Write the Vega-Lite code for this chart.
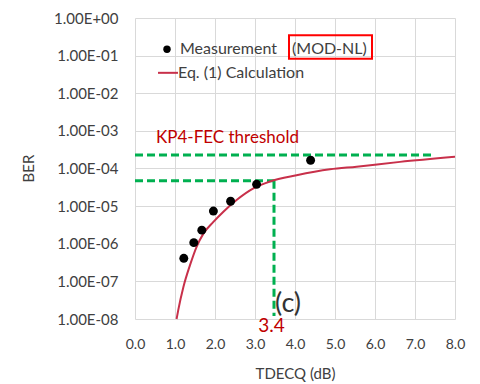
{
  "$schema": "https://vega.github.io/schema/vega-lite/v6.json",
  "width": 320,
  "height": 301,
  "autosize": {"type": "none"},
  "padding": {"left": 135, "top": 18, "right": 25, "bottom": 65},
  "background": "white",
  "config": {
    "view": {"stroke": null},
    "font": "Lato",
    "axis": {
      "grid": true,
      "gridColor": "#d9d9d9",
      "gridWidth": 1,
      "domain": false,
      "ticks": false,
      "labelFont": "Lato",
      "labelFontSize": 15,
      "labelColor": "#404040",
      "labelOverlap": false,
      "titleFont": "Lato",
      "titleFontSize": 15,
      "titleFontWeight": "normal",
      "titleColor": "#404040"
    },
    "axisX": {"labelOverlap": false, "labelFlush": false}
  },
  "datasets": {
    "measurement": [
      {"tdecq": 1.22, "ber": 4.1e-7},
      {"tdecq": 1.47, "ber": 1.07e-6},
      {"tdecq": 1.67, "ber": 2.3e-6},
      {"tdecq": 1.96, "ber": 7.4e-6},
      {"tdecq": 2.39, "ber": 1.35e-5},
      {"tdecq": 3.04, "ber": 3.8e-5},
      {"tdecq": 4.39, "ber": 1.66e-4}
    ],
    "calc": [
      {"tdecq": 1.04, "ber": 1e-8},
      {"tdecq": 1.08, "ber": 1.7e-8},
      {"tdecq": 1.21, "ber": 7.1e-8},
      {"tdecq": 1.375, "ber": 2.7e-7},
      {"tdecq": 1.54, "ber": 8.3e-7},
      {"tdecq": 1.71, "ber": 1.86e-6},
      {"tdecq": 1.96, "ber": 3.8e-6},
      {"tdecq": 2.21, "ber": 7.1e-6},
      {"tdecq": 2.54, "ber": 1.45e-5},
      {"tdecq": 2.96, "ber": 2.95e-5},
      {"tdecq": 3.375, "ber": 4.5e-5},
      {"tdecq": 4.04, "ber": 6.6e-5},
      {"tdecq": 4.875, "ber": 9.5e-5},
      {"tdecq": 5.54, "ber": 1.12e-4},
      {"tdecq": 6.625, "ber": 1.5e-4},
      {"tdecq": 8.0, "ber": 2.05e-4}
    ],
    "guides": [
      {"tdecq": 0, "ber": 2.3e-4, "tdecq2": 7.5, "ber2": 2.3e-4},
      {"tdecq": 0, "ber": 4.7e-5, "tdecq2": 3.475, "ber2": 4.7e-5},
      {"tdecq": 3.475, "ber": 4.7e-5, "tdecq2": 3.475, "ber2": 1.2e-8}
    ]
  },
  "encoding": {
    "x": {"field": "tdecq", "type": "quantitative", "scale": {"domain": [0, 8]},
      "axis": {"values": [0,1,2,3,4,5,6,7,8], "format": ".1f", "labelPadding": 18, "labelOverlap": false, "labelFontSize": 14, "title": "TDECQ (dB)", "titleY": 47, "titleBaseline": "top"}},
    "y": {"field": "ber", "type": "quantitative", "scale": {"type": "log", "domain": [1e-8, 1]},
      "axis": {"values": [1, 0.1, 0.01, 0.001, 0.0001, 0.00001, 0.000001, 0.0000001, 0.00000001],
        "labelExpr": "'1.00E' + (datum.value >= 1 ? '+00' : '-0' + round(-log(datum.value)/LN10))",
        "labelOverlap": false,
        "labelPadding": 17, "title": "BER", "titleX": -107, "titleY": 150, "titleBaseline": "middle", "titleAlign": "center", "titleAngle": 270}}
  },
  "layer": [
    {
      "data": {"name": "guides"},
      "mark": {"type": "rule", "color": "#00b050", "strokeWidth": 3, "strokeDash": [8, 4]},
      "encoding": {
        "x2": {"field": "tdecq2"},
        "y2": {"field": "ber2"}
      }
    },
    {
      "data": {"name": "calc"},
      "mark": {"type": "line", "color": "#c8304a", "strokeWidth": 2, "interpolate": "monotone"},
      "encoding": {}
    },
    {
      "data": {"name": "measurement"},
      "mark": {"type": "point", "filled": true, "color": "black", "size": 80, "opacity": 1},
      "encoding": {}
    },
    {
      "data": {"values": [{"tdecq": 0.8, "ber": 0.147}]},
      "mark": {"type": "point", "filled": true, "color": "black", "size": 55, "opacity": 1},
      "encoding": {}
    },
    {
      "data": {"values": [{"tdecq": 0.575, "tdecq2": 1.075, "ber": 0.0349}]},
      "mark": {"type": "rule", "color": "#c8304a", "strokeWidth": 2},
      "encoding": {
        "x2": {"field": "tdecq2"}
      }
    },
    {
      "data": {"values": [{"tdecq": 3.85, "tdecq2": 5.925, "ber": 0.347, "ber2": 0.0822}]},
      "mark": {"type": "rect", "fill": null, "stroke": "#ff0000", "strokeWidth": 2},
      "encoding": {
        "x2": {"field": "tdecq2"},
        "y2": {"field": "ber2"}
      }
    },
    {
      "data": {"values": [
        {"tdecq": 1.125, "ber": 0.150, "label": "Measurement"},
        {"tdecq": 3.925, "ber": 0.150, "label": "(MOD-NL)"},
        {"tdecq": 1.075, "ber": 0.0349, "label": "Eq. (1) Calculation"}
      ]},
      "mark": {"type": "text", "align": "left", "baseline": "middle", "font": "Lato", "fontSize": 16, "color": "#404040"},
      "encoding": {
        "text": {"field": "label"}
      }
    },
    {
      "data": {"values": [{"tdecq": 0.525, "ber": 0.00065, "label": "KP4-FEC threshold"}]},
      "mark": {"type": "text", "align": "left", "baseline": "middle", "font": "Lato", "fontSize": 17, "color": "#c00000"},
      "encoding": {
        "text": {"field": "label"}
      }
    },
    {
      "data": {"values": [{"tdecq": 3.5, "ber": 2.57e-8, "label": "(c)"}]},
      "mark": {"type": "text", "align": "left", "baseline": "middle", "font": "Lato", "fontSize": 27, "color": "#333333"},
      "encoding": {
        "text": {"field": "label"}
      }
    },
    {
      "data": {"values": [{"tdecq": 3.41, "ber": 6.5e-9, "label": "3.4"}]},
      "mark": {"type": "text", "align": "center", "baseline": "middle", "font": "Lato", "fontSize": 19, "color": "#c00000"},
      "encoding": {
        "text": {"field": "label"}
      }
    }
  ]
}
